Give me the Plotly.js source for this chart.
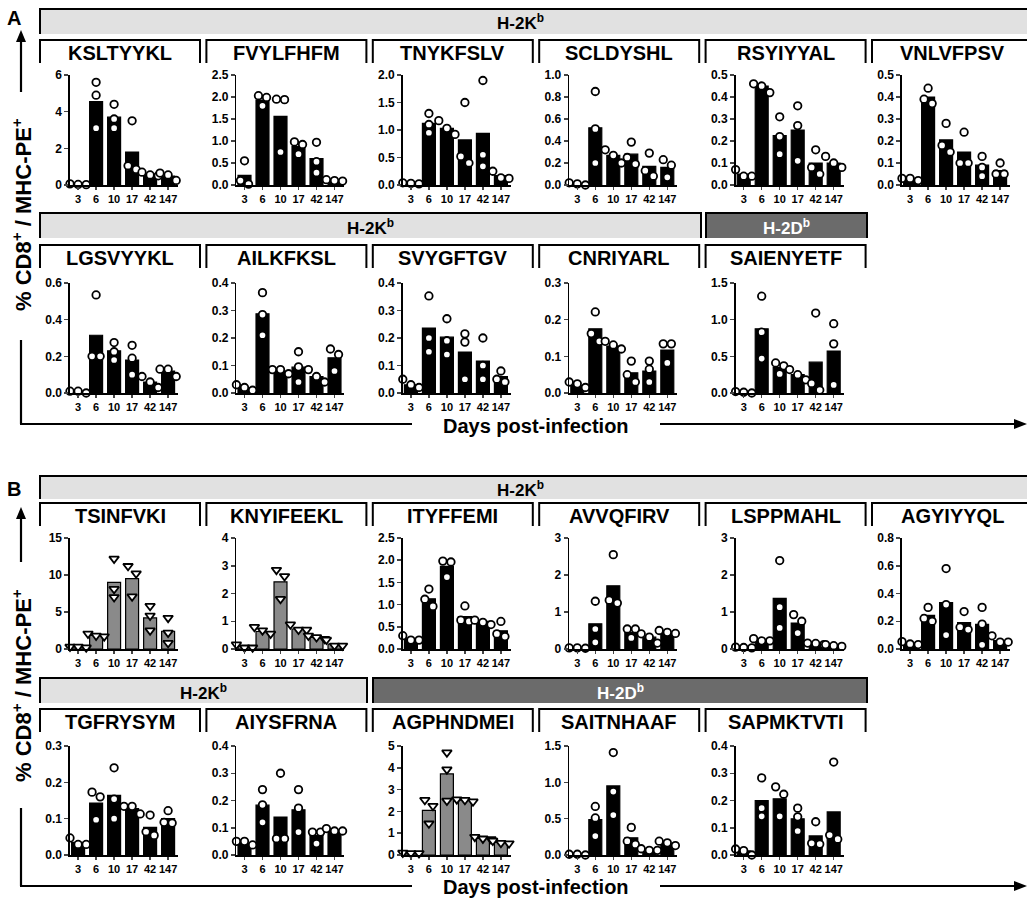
<!DOCTYPE html>
<html><head><meta charset="utf-8">
<script src="https://cdn.plot.ly/plotly-3.0.1.min.js"></script>
<style>html,body{margin:0;padding:0;background:#fff}#chart{width:1027px;height:901px}</style>
</head><body><div id="chart"></div>
<script>
// ---------- DATA ----------
const days = ['3','6','10','17','42','147'];

const KSLTYYKL_bar = [0.04,4.55,3.7,1.8,0.6,0.48];
const KSLTYYKL_pts = [[0.06,0.02,0.03],[5.6,4.9,3.1],[4.4,3.6,3.1],[3.5,1.05,0.85],[0.7,0.55,0.5],[0.65,0.55,0.25]];
const FVYLFHFM_bar = [0.22,1.93,1.56,0.87,0.6,0.1];
const FVYLFHFM_pts = [[0.55,0.1,0.02],[2.03,1.99,1.8],[1.95,1.94,0.75],[0.98,0.92,0.7],[0.97,0.53,0.28],[0.12,0.1,0.09]];
const TNYKFSLV_bar = [0.02,1.12,1.03,0.82,0.94,0.17];
const TNYKFSLV_pts = [[0.04,0.02,0.03],[1.3,1.1,0.95],[1.17,1.03,0.92],[1.5,0.52,0.4],[1.9,0.55,0.34],[0.25,0.13,0.12]];
const SCLDYSHL_bar = [0.01,0.52,0.27,0.28,0.17,0.16];
const SCLDYSHL_pts = [[0.02,0.0,0.01],[0.85,0.51,0.2],[0.32,0.27,0.2],[0.39,0.25,0.19],[0.29,0.13,0.08],[0.23,0.18,0.07]];
const RSYIYYAL_bar = [0.05,0.45,0.225,0.25,0.1,0.1];
const RSYIYYAL_pts = [[0.07,0.04,0.04],[0.46,0.42,0.45],[0.31,0.22,0.14],[0.36,0.27,0.11],[0.16,0.08,0.05],[0.13,0.1,0.08]];
const VNLVFPSV_bar = [0.03,0.4,0.205,0.15,0.09,0.065];
const VNLVFPSV_pts = [[0.03,0.03,0.02],[0.44,0.39,0.37],[0.28,0.18,0.15],[0.24,0.1,0.1],[0.13,0.08,0.04],[0.1,0.05,0.05]];

const LGSVYYKL_bar = [0.01,0.315,0.23,0.18,0.06,0.12];
const LGSVYYKL_pts = [[0.01,0.01,0.0],[0.535,0.2,0.2],[0.275,0.225,0.18],[0.26,0.19,0.1],[0.09,0.06,0.03],[0.13,0.13,0.09]];
const AILKFKSL_bar = [0.02,0.288,0.08,0.094,0.06,0.128];
const AILKFKSL_pts = [[0.03,0.02,0.01],[0.365,0.285,0.21],[0.085,0.085,0.07],[0.15,0.095,0.04],[0.085,0.06,0.04],[0.16,0.14,0.08]];
const SVYGFTGV_bar = [0.03,0.236,0.203,0.149,0.116,0.06];
const SVYGFTGV_pts = [[0.05,0.03,0.02],[0.353,0.2,0.15],[0.27,0.19,0.14],[0.215,0.185,0.05],[0.2,0.1,0.05],[0.08,0.05,0.04]];
const CNRIYARL_bar = [0.02,0.175,0.128,0.055,0.06,0.117];
const CNRIYARL_pts = [[0.03,0.015,0.025],[0.221,0.162,0.141],[0.141,0.131,0.12],[0.087,0.05,0.03],[0.087,0.065,0.03],[0.134,0.134,0.082]];
const SAIENYETF_bar = [0.01,0.875,0.345,0.25,0.42,0.573];
const SAIENYETF_pts = [[0.02,0.01,0.0],[1.32,0.83,0.47],[0.41,0.37,0.26],[0.32,0.25,0.18],[1.09,0.13,0.04],[0.945,0.67,0.11]];

const TSINFVKI_bar = [0.35,1.85,9.0,9.5,4.2,2.4];
const TSINFVKI_pts = [[0.3,0.2,0.3],[2.07,1.7,1.8],[12.2,8.1,7.0],[11.2,10.2,7.1],[5.8,4.5,2.5],[4.2,2.2,0.8]];
const KNYIFEEKL_bar = [0.1,0.63,2.42,0.72,0.42,0.18];
const KNYIFEEKL_pts = [[0.16,0.05,0.05],[0.79,0.55,0.67],[2.85,2.62,1.8],[0.88,0.69,0.69],[0.48,0.36,0.42],[0.33,0.12,0.12]];
const ITYFFEMI_bar = [0.23,1.13,1.86,0.73,0.62,0.41];
const ITYFFEMI_pts = [[0.3,0.2,0.2],[1.35,1.12,0.96],[1.98,1.96,1.62],[0.97,0.65,0.62],[0.65,0.6,0.55],[0.62,0.34,0.28]];
const AVVQFIRV_bar = [0.02,0.68,1.71,0.45,0.32,0.44];
const AVVQFIRV_pts = [[0.03,0.02,0.03],[1.29,0.54,0.18],[2.55,1.24,1.32],[0.54,0.54,0.3],[0.41,0.32,0.16],[0.5,0.42,0.45]];
const LSPPMAHL_bar = [0.04,0.22,1.37,0.7,0.14,0.09];
const LSPPMAHL_pts = [[0.05,0.03,0.04],[0.28,0.22,0.22],[2.39,1.13,0.57],[0.93,0.75,0.43],[0.16,0.12,0.15],[0.12,0.07,0.09]];
const AGYIYYQL_bar = [0.04,0.242,0.335,0.19,0.177,0.06];
const AGYIYYQL_pts = [[0.053,0.032,0.036],[0.3,0.2,0.22],[0.58,0.32,0.1],[0.27,0.14,0.157],[0.3,0.18,0.03],[0.095,0.05,0.05]];

const TGFRYSYM_bar = [0.035,0.143,0.164,0.128,0.076,0.1];
const TGFRYSYM_pts = [[0.047,0.029,0.029],[0.173,0.16,0.097],[0.24,0.154,0.1],[0.134,0.134,0.113],[0.11,0.064,0.054],[0.122,0.09,0.088]];
const AIYSFRNA_bar = [0.042,0.183,0.139,0.166,0.071,0.088];
const AIYSFRNA_pts = [[0.05,0.037,0.05],[0.24,0.184,0.12],[0.3,0.06,0.06],[0.24,0.172,0.084],[0.084,0.084,0.042],[0.097,0.088,0.088]];
const AGPHNDMEI_bar = [0.1,2.05,3.72,2.52,0.76,0.58];
const AGPHNDMEI_pts = [[0.1,0.08,0.08],[2.52,2.25,1.44],[4.7,3.92,2.49],[2.55,2.52,2.45],[0.83,0.72,0.75],[0.65,0.53,0.55]];
const SAITNHAAF_bar = [0.01,0.486,0.95,0.236,0.077,0.15];
const SAITNHAAF_pts = [[0.01,0.0,0.01],[0.668,0.51,0.26],[1.41,0.873,0.55],[0.38,0.19,0.145],[0.086,0.064,0.064],[0.19,0.168,0.13]];
const SAPMKTVTI_bar = [0.015,0.2,0.206,0.133,0.07,0.158];
const SAPMKTVTI_pts = [[0.022,0.0,0.016],[0.283,0.172,0.142],[0.25,0.223,0.142],[0.172,0.088,0.14],[0.122,0.04,0.043],[0.341,0.058,0.073]];

// ---------- LAYOUT CONFIG ----------
const W = 1027, H = 901;
const FONT = 'Liberation Sans, Arial, sans-serif';
const GRAYBAR = '#8a8a8a';
const rows = [{top:75,zero:185},{top:283,zero:393},{top:538,zero:649},{top:746,zero:855}];
const colX = c => 70 + 166.4*c;
const AXW = 108;

const panels = [
  {name:'KSLTYYKL', bar:KSLTYYKL_bar, pts:KSLTYYKL_pts, r:0,c:0, ymax:6, dt:2, dec:0},
  {name:'FVYLFHFM', bar:FVYLFHFM_bar, pts:FVYLFHFM_pts, r:0,c:1, ymax:2.5, dt:0.5, dec:1},
  {name:'TNYKFSLV', bar:TNYKFSLV_bar, pts:TNYKFSLV_pts, r:0,c:2, ymax:2.0, dt:0.5, dec:1},
  {name:'SCLDYSHL', bar:SCLDYSHL_bar, pts:SCLDYSHL_pts, r:0,c:3, ymax:1.0, dt:0.2, dec:1},
  {name:'RSYIYYAL', bar:RSYIYYAL_bar, pts:RSYIYYAL_pts, r:0,c:4, ymax:0.5, dt:0.1, dec:1},
  {name:'VNLVFPSV', bar:VNLVFPSV_bar, pts:VNLVFPSV_pts, r:0,c:5, ymax:0.5, dt:0.1, dec:1},
  {name:'LGSVYYKL', bar:LGSVYYKL_bar, pts:LGSVYYKL_pts, r:1,c:0, ymax:0.6, dt:0.2, dec:1},
  {name:'AILKFKSL', bar:AILKFKSL_bar, pts:AILKFKSL_pts, r:1,c:1, ymax:0.4, dt:0.1, dec:1},
  {name:'SVYGFTGV', bar:SVYGFTGV_bar, pts:SVYGFTGV_pts, r:1,c:2, ymax:0.4, dt:0.1, dec:1},
  {name:'CNRIYARL', bar:CNRIYARL_bar, pts:CNRIYARL_pts, r:1,c:3, ymax:0.3, dt:0.1, dec:1},
  {name:'SAIENYETF', bar:SAIENYETF_bar, pts:SAIENYETF_pts, r:1,c:4, ymax:1.5, dt:0.5, dec:1},
  {name:'TSINFVKI', bar:TSINFVKI_bar, pts:TSINFVKI_pts, r:2,c:0, ymax:15, dt:5, dec:0, gray:true},
  {name:'KNYIFEEKL', bar:KNYIFEEKL_bar, pts:KNYIFEEKL_pts, r:2,c:1, ymax:4, dt:1, dec:0, gray:true},
  {name:'ITYFFEMI', bar:ITYFFEMI_bar, pts:ITYFFEMI_pts, r:2,c:2, ymax:2.5, dt:0.5, dec:1},
  {name:'AVVQFIRV', bar:AVVQFIRV_bar, pts:AVVQFIRV_pts, r:2,c:3, ymax:3, dt:1, dec:0},
  {name:'LSPPMAHL', bar:LSPPMAHL_bar, pts:LSPPMAHL_pts, r:2,c:4, ymax:3, dt:1, dec:0},
  {name:'AGYIYYQL', bar:AGYIYYQL_bar, pts:AGYIYYQL_pts, r:2,c:5, ymax:0.8, dt:0.2, dec:1},
  {name:'TGFRYSYM', bar:TGFRYSYM_bar, pts:TGFRYSYM_pts, r:3,c:0, ymax:0.3, dt:0.1, dec:1},
  {name:'AIYSFRNA', bar:AIYSFRNA_bar, pts:AIYSFRNA_pts, r:3,c:1, ymax:0.4, dt:0.1, dec:1},
  {name:'AGPHNDMEI', bar:AGPHNDMEI_bar, pts:AGPHNDMEI_pts, r:3,c:2, ymax:5, dt:1, dec:0, gray:true},
  {name:'SAITNHAAF', bar:SAITNHAAF_bar, pts:SAITNHAAF_pts, r:3,c:3, ymax:1.5, dt:0.5, dec:1},
  {name:'SAPMKTVTI', bar:SAPMKTVTI_bar, pts:SAPMKTVTI_pts, r:3,c:4, ymax:0.4, dt:0.1, dec:1}
];

const PX = x => x / W;
const PY = y => 1 - y / H;

// spread overlapping points horizontally (GraphPad-style scatter)
function spread(vals, ymax, hpx){
  const idx = vals.map((v,i)=>i).sort((a,b)=>vals[b]-vals[a]);
  const off = new Array(vals.length).fill(0);
  const groups = []; let g = [idx[0]];
  for (let k=1;k<idx.length;k++){
    const d = Math.abs(vals[idx[k]]-vals[g[g.length-1]])/ymax*hpx;
    if (d < 8) g.push(idx[k]); else { groups.push(g); g=[idx[k]]; }
  }
  groups.push(g);
  groups.forEach(gr => { const n=gr.length; gr.forEach((id,j)=>{ off[id]=(j-(n-1)/2)*0.45; }); });
  return off;
}

const traces = [];
const layout = {
  width: W, height: H, margin:{l:0,r:0,t:0,b:0},
  paper_bgcolor:'#fff', plot_bgcolor:'rgba(0,0,0,0)',
  showlegend:false, shapes:[], annotations:[],
  font:{family:FONT, color:'#000'}
};
const tickFont = {family:FONT, size:12, color:'#000', weight:'bold'};
const xTickFont = {family:FONT, size:11, color:'#000', weight:'bold'};

panels.forEach((p, i) => {
  const n = i + 1;
  const xs = n === 1 ? 'x' : 'x' + n;
  const ys = n === 1 ? 'y' : 'y' + n;
  const row = rows[p.r];
  const x0 = colX(p.c);
  const hpx = row.zero - row.top;
  const cat = days.map((d,k)=>k);
  traces.push({
    type:'bar', x:cat, y:p.bar, xaxis:xs, yaxis:ys, width:0.72,
    marker:{color: p.gray ? GRAYBAR : '#000', line:{color:'#000', width:1.2}},
    hoverinfo:'skip'
  });
  const px = [], py = [];
  p.pts.forEach((vals,k) => {
    const off = spread(vals, p.ymax, hpx);
    vals.forEach((v,j) => { px.push(k + off[j]); py.push(v); });
  });
  traces.push({
    type:'scatter', mode:'markers', x:px, y:py, xaxis:xs, yaxis:ys, cliponaxis:false,
    marker:{symbol: p.gray ? 'triangle-down' : 'circle', size: p.gray ? 8.5 : 7.5, color:'#fff',
            line:{color:'#000', width:1.8}},
    hoverinfo:'skip'
  });
  const xk = n === 1 ? 'xaxis' : 'xaxis' + n;
  const yk = n === 1 ? 'yaxis' : 'yaxis' + n;
  layout[xk] = {
    domain:[PX(x0), PX(x0 + AXW)], anchor:ys, range:[-0.45, 5.55],
    tickmode:'array', tickvals:cat, ticktext:days, tickangle:0, ticks:'outside', ticklen:3, tickwidth:1.5,
    showline:true, linecolor:'#000', linewidth:1.6, showgrid:false, zeroline:false,
    tickfont:xTickFont, fixedrange:true, automargin:false
  };
  layout[yk] = {
    domain:[PY(row.zero), PY(row.top)], anchor:xs, range:[0, p.ymax],
    tickmode:'linear', tick0:0, dtick:p.dt, tickformat: p.dec ? '.1f' : 'd',
    ticks:'outside', ticklen:4, tickwidth:1.5,
    showline:true, linecolor:'#000', linewidth:1.6, showgrid:false, zeroline:false,
    tickfont:tickFont, fixedrange:true, automargin:false
  };
  // header bracket + name
  const hx0 = 40 + 166.4*p.c, hx1 = Math.min(hx0 + 160, W + 10);
  const htop = [40, 245, 503, 709][p.r];
  const hbot = htop + 23;
  layout.shapes.push({type:'path', xref:'paper', yref:'paper',
    path:`M ${PX(hx0)},${PY(hbot)} L ${PX(hx0)},${PY(htop)} L ${PX(hx1)},${PY(htop)} L ${PX(hx1)},${PY(hbot)}`,
    line:{color:'#000', width:2}});
  layout.annotations.push({xref:'paper', yref:'paper', x:PX(hx0 + 80), y:PY(htop + 13),
    xanchor:'center', yanchor:'middle', showarrow:false,
    text:'<b>' + p.name + '</b>', font:{family:FONT, size:20, color:'#000'}});
});

// banners
const banners = [
  {x0:40, x1:W+10, top:9,  bot:34,  dark:false},
  {x0:40, x1:701,  top:213, bot:238, dark:false},
  {x0:706, x1:867, top:213, bot:238, dark:true},
  {x0:40, x1:W+10, top:476, bot:499, dark:false},
  {x0:40, x1:367,  top:678, bot:703, dark:false},
  {x0:373, x1:867, top:678, bot:703, dark:true}
];
banners.forEach(b => {
  layout.shapes.push({type:'rect', xref:'paper', yref:'paper', x0:PX(b.x0), x1:PX(b.x1), y0:PY(b.bot), y1:PY(b.top),
    fillcolor: b.dark ? '#6b6b6b' : '#e1e1e1', line:{width:0}, layer:'below'});
  layout.shapes.push({type:'path', xref:'paper', yref:'paper',
    path:`M ${PX(b.x0)},${PY(b.bot)} L ${PX(b.x0)},${PY(b.top)} L ${PX(b.x1)},${PY(b.top)} L ${PX(b.x1)},${PY(b.bot)}`,
    line:{color:'#000', width:2}});
  const cx = b.x1 > W ? 520 : (b.x0 + b.x1) / 2;
  layout.annotations.push({xref:'paper', yref:'paper', x:PX(cx), y:PY((b.top + b.bot)/2 + 1),
    xanchor:'center', yanchor:'middle', showarrow:false,
    text: b.dark ? '<b>H-2D<sup>b</sup></b>' : '<b>H-2K<sup>b</sup></b>',
    font:{family:FONT, size:17, color: b.dark ? '#fff' : '#000'}});
});

// section letters
[['A',18],['B',489]].forEach(([t,y]) => {
  layout.annotations.push({xref:'paper', yref:'paper', x:PX(14), y:PY(y), xanchor:'center', yanchor:'middle',
    showarrow:false, text:'<b>'+t+'</b>', font:{family:FONT, size:20, color:'#000'}});
});

// axis titles with arrows
const sections = [
  {arrowTop:30, lineTopEnd:92, titleMid:215, lineBotStart:340, base:424, textY:426},
  {arrowTop:507, lineTopEnd:562, titleMid:686, lineBotStart:808, base:886, textY:887}
];
const VX = 21;
sections.forEach(s => {
  const L = (x0,y0,x1,y1) => layout.shapes.push({type:'line', xref:'paper', yref:'paper',
    x0:PX(x0), y0:PY(y0), x1:PX(x1), y1:PY(y1), line:{color:'#000', width:2.2}});
  L(VX, s.arrowTop + 10, VX, s.lineTopEnd);
  L(VX, s.lineBotStart, VX, s.base);
  L(VX - 1, s.base, 412, s.base);
  L(660, s.base, 1018, s.base);
  layout.shapes.push({type:'path', xref:'paper', yref:'paper', fillcolor:'#000', line:{width:0},
    path:`M ${PX(VX)},${PY(s.arrowTop)} L ${PX(VX-5)},${PY(s.arrowTop+12)} L ${PX(VX+5)},${PY(s.arrowTop+12)} Z`});
  layout.shapes.push({type:'path', xref:'paper', yref:'paper', fillcolor:'#000', line:{width:0},
    path:`M ${PX(1027)},${PY(s.base)} L ${PX(1014)},${PY(s.base-5)} L ${PX(1014)},${PY(s.base+5)} Z`});
  layout.annotations.push({xref:'paper', yref:'paper', x:PX(VX+1), y:PY(s.titleMid), xanchor:'center', yanchor:'middle',
    textangle:-90, showarrow:false, text:'<b>% CD8<sup>+</sup> / MHC-PE<sup>+</sup></b>',
    font:{family:FONT, size:22, color:'#000'}});
  layout.annotations.push({xref:'paper', yref:'paper', x:PX(536), y:PY(s.textY), xanchor:'center', yanchor:'middle',
    showarrow:false, text:'<b>Days post-infection</b>', font:{family:FONT, size:20, color:'#000'}});
});

Plotly.newPlot('chart', traces, layout, {staticPlot:true, displayModeBar:false});
</script>
</body></html>
